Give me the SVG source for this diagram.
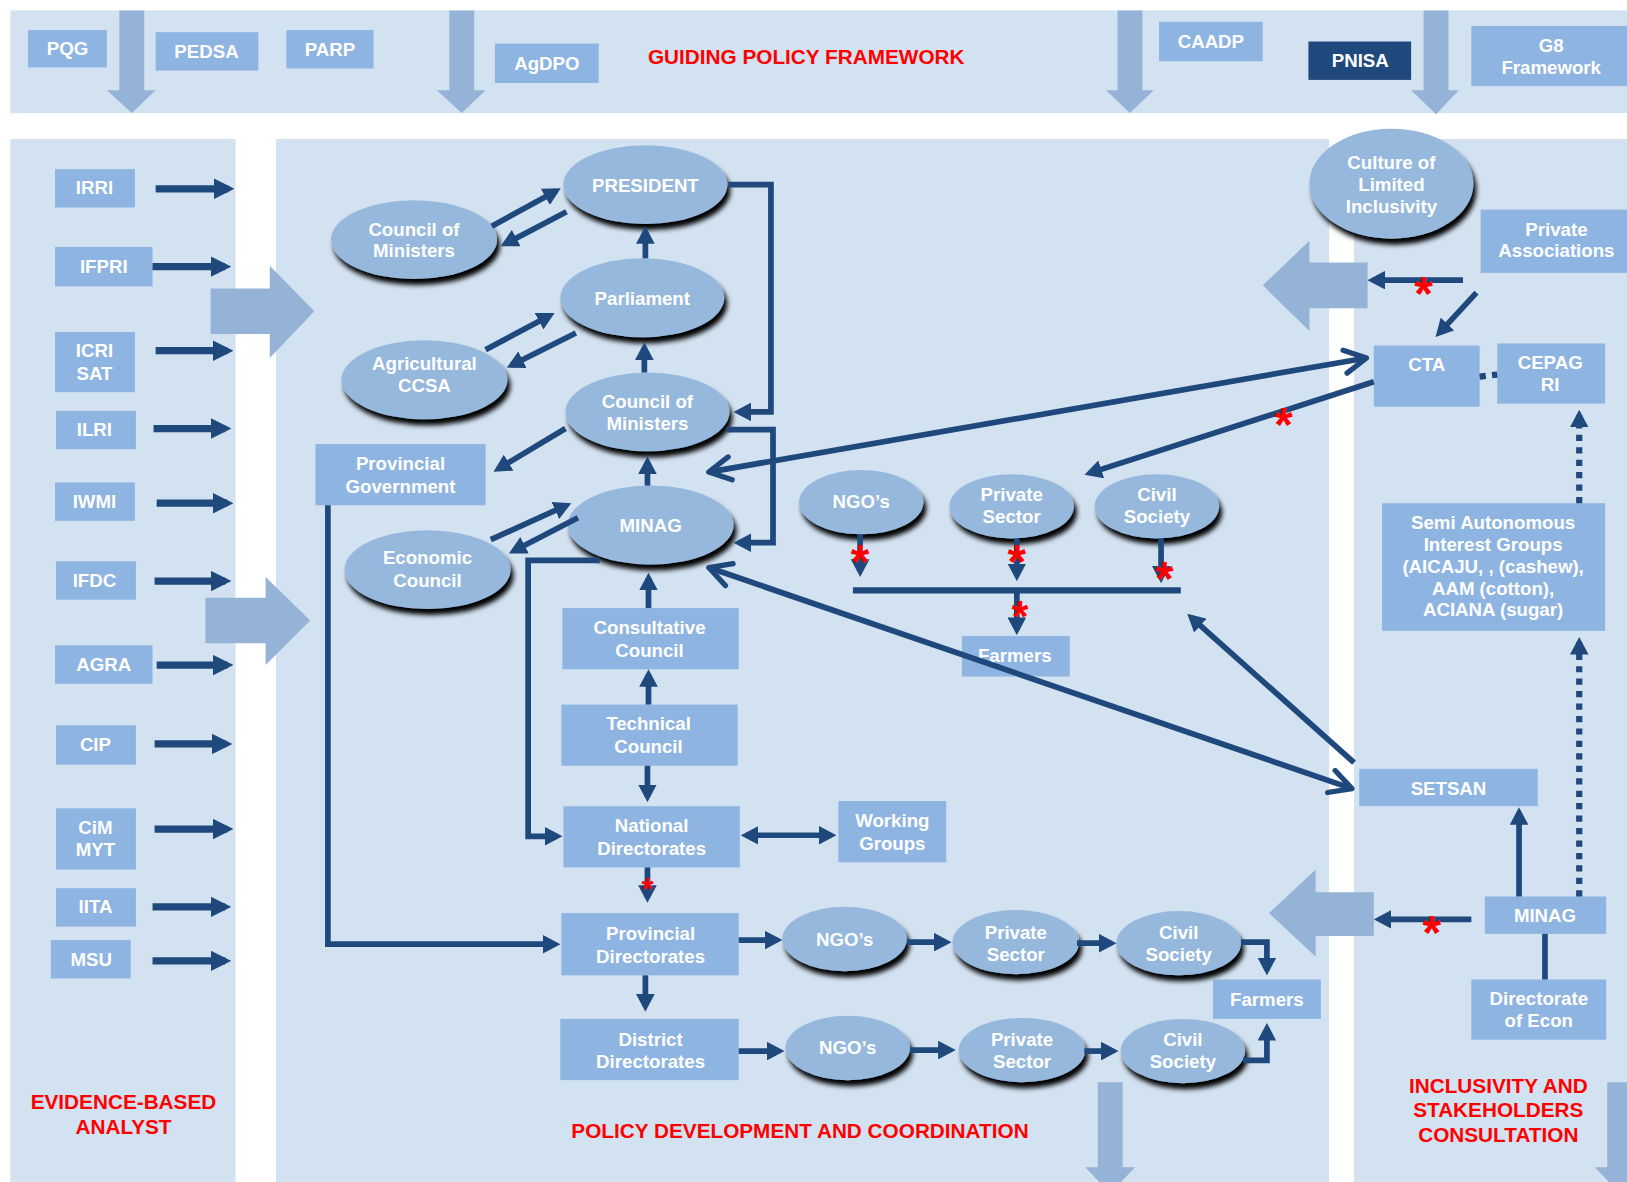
<svg xmlns="http://www.w3.org/2000/svg" width="1627" height="1182" viewBox="0 0 1627 1182">
<defs>
<style>
.bg{fill:#D3E2F1}
.bx{fill:#8EB4E2}
.el{fill:#95B8DC;filter:url(#sh)}
.pa{fill:#95B3D7}
.t{font-family:"Liberation Sans",Arial,sans-serif;font-weight:bold;font-size:18px;fill:#fff;text-anchor:middle}
.r{font-family:"Liberation Sans",Arial,sans-serif;font-weight:bold;font-size:20px;fill:#FF0000;text-anchor:middle}
.ast{font-family:"Liberation Sans",Arial,sans-serif;font-weight:bold;font-size:46px;fill:#FF0000;text-anchor:middle}
.c{fill:none;stroke:#1F497D;stroke-width:5.5}
.cl{fill:none;stroke:#1F497D;stroke-width:7}
.d{fill:none;stroke:#1F497D;stroke-width:6;stroke-dasharray:6 6}
</style>
<filter id="sh" x="-15%" y="-15%" width="135%" height="150%">
<feOffset in="SourceAlpha" dx="3" dy="6" result="o"/>
<feGaussianBlur in="o" stdDeviation="2.5" result="b"/>
<feMerge><feMergeNode in="b"/><feMergeNode in="SourceGraphic"/></feMerge>
</filter>
<marker id="ah" viewBox="0 0 10 10" refX="7" refY="5" markerWidth="17" markerHeight="18" markerUnits="userSpaceOnUse" orient="auto-start-reverse" preserveAspectRatio="none"><path d="M0,0L10,5L0,10z" fill="#1F497D"/></marker>
<marker id="ahL" viewBox="0 0 10 10" refX="7" refY="5" markerWidth="20" markerHeight="20" markerUnits="userSpaceOnUse" orient="auto" preserveAspectRatio="none"><path d="M0,0L10,5L0,10z" fill="#1F497D"/></marker>
<marker id="oc" viewBox="0 0 20 20" refX="18" refY="10" markerWidth="28" markerHeight="28" markerUnits="userSpaceOnUse" orient="auto-start-reverse"><path d="M3,2L18,10L3,18" fill="none" stroke="#1F497D" stroke-width="3.6" stroke-linecap="round" stroke-linejoin="round"/></marker>
</defs>
<rect width="1627" height="1182" fill="#fff"/>
<g transform="scale(1.0376)">
<g id="panels">
<rect class="bg" x="10" y="10" width="1558" height="99"/>
<rect class="bg" x="10" y="134" width="217" height="1005"/>
<rect class="bg" x="266" y="134" width="1015" height="1005"/>
<rect class="bg" x="1305" y="134" width="263" height="1005"/>
</g>
<g id="big-arrows">
<polygon class="pa" points="115,10 139,10 139,87 150,87 127,109 103,87 115,87"/>
<polygon class="pa" points="433,10 457,10 457,87 468,87 445,109 421,87 433,87"/>
<polygon class="pa" points="1077,10 1101,10 1101,87 1112,87 1089,109 1066,87 1077,87"/>
<polygon class="pa" points="1372,10 1396,10 1396,87 1406,87 1384,110 1360,87 1372,87"/>
<polygon class="pa" points="203,278 260,278 260,256 303,300 260,345 260,322 203,322"/>
<polygon class="pa" points="198,576 256,576 256,556 299,598 256,641 256,620 198,620"/>
<polygon class="pa" points="1318,253 1262,253 1262,232 1217,275 1262,319 1262,297 1318,297"/>
<polygon class="pa" points="1324,860 1268,860 1268,838 1223,880 1268,922 1268,902 1324,902"/>
<polygon class="pa" points="1058,1043 1082,1043 1082,1125 1094,1125 1070,1150 1046,1125 1058,1125"/>
<polygon class="pa" points="1549,1043 1573,1043 1573,1125 1585,1125 1561,1150 1537,1125 1549,1125"/>
</g>
<g id="n-pqg"><rect class="bx" x="27" y="29" width="76" height="36"/><text class="t" x="65" y="53">PQG</text></g>
<g id="n-pedsa"><rect class="bx" x="150" y="31" width="99" height="37"/><text class="t" x="199" y="56">PEDSA</text></g>
<g id="n-parp"><rect class="bx" x="276" y="29" width="84" height="37"/><text class="t" x="318" y="54">PARP</text></g>
<g id="n-agdpo"><rect class="bx" x="477" y="42" width="100" height="38"/><text class="t" x="527" y="67">AgDPO</text></g>
<g id="n-caadp"><rect class="bx" x="1117" y="21" width="100" height="38"/><text class="t" x="1167" y="46">CAADP</text></g>
<g id="n-pnisa"><rect x="1261" y="40" width="99" height="37" fill="#1F497D"/><text class="t" x="1311" y="65">PNISA</text></g>
<g id="n-g8"><rect class="bx" x="1418" y="25" width="150" height="58"/><text class="t" x="1495" y="50">G8</text><text class="t" x="1495" y="71">Framework</text></g>

<g id="n-irri"><rect class="bx" x="53" y="163" width="77" height="37"/><text class="t" x="91" y="187">IRRI</text></g>
<g id="n-ifpri"><rect class="bx" x="53" y="238" width="94" height="38"/><text class="t" x="100" y="263">IFPRI</text></g>
<g id="n-icrisat"><rect class="bx" x="53" y="320" width="77" height="58"/><text class="t" x="91" y="344">ICRI</text><text class="t" x="91" y="366">SAT</text></g>
<g id="n-ilri"><rect class="bx" x="54" y="396" width="77" height="37"/><text class="t" x="91" y="420">ILRI</text></g>
<g id="n-iwmi"><rect class="bx" x="53" y="465" width="77" height="37"/><text class="t" x="91" y="490">IWMI</text></g>
<g id="n-ifdc"><rect class="bx" x="54" y="541" width="77" height="37"/><text class="t" x="91" y="566">IFDC</text></g>
<g id="n-agra"><rect class="bx" x="53" y="622" width="94" height="37"/><text class="t" x="100" y="647">AGRA</text></g>
<g id="n-cip"><rect class="bx" x="54" y="699" width="77" height="38"/><text class="t" x="92" y="724">CIP</text></g>
<g id="n-cimmyt"><rect class="bx" x="54" y="779" width="77" height="59"/><text class="t" x="92" y="804">CiM</text><text class="t" x="92" y="825">MYT</text></g>
<g id="n-iita"><rect class="bx" x="54" y="856" width="77" height="37"/><text class="t" x="92" y="880">IITA</text></g>
<g id="n-msu"><rect class="bx" x="49" y="906" width="77" height="37"/><text class="t" x="88" y="931">MSU</text></g>

<g id="n-com-top"><ellipse class="el" cx="399" cy="231" rx="80" ry="38"/><text class="t" x="399" y="227">Council of</text><text class="t" x="399" y="248">Ministers</text></g>
<g id="n-president"><ellipse class="el" cx="622" cy="178" rx="79" ry="38"/><text class="t" x="622" y="185">PRESIDENT</text></g>
<g id="n-parliament"><ellipse class="el" cx="619" cy="287" rx="79" ry="38"/><text class="t" x="619" y="294">Parliament</text></g>
<g id="n-ccsa"><ellipse class="el" cx="409" cy="366" rx="80" ry="38"/><text class="t" x="409" y="357">Agricultural</text><text class="t" x="409" y="378">CCSA</text></g>
<g id="n-com-mid"><ellipse class="el" cx="624" cy="397" rx="79" ry="38"/><text class="t" x="624" y="393">Council of</text><text class="t" x="624" y="414">Ministers</text></g>
<g id="n-minag"><ellipse class="el" cx="627" cy="506" rx="80" ry="38"/><text class="t" x="627" y="513">MINAG</text></g>
<g id="n-econ"><ellipse class="el" cx="412" cy="549" rx="80" ry="38"/><text class="t" x="412" y="544">Economic</text><text class="t" x="412" y="566">Council</text></g>
<g id="n-provgov"><rect class="bx" x="304" y="428" width="164" height="59"/><text class="t" x="386" y="453">Provincial</text><text class="t" x="386" y="475">Government</text></g>
<g id="n-consult"><rect class="bx" x="542" y="586" width="170" height="59"/><text class="t" x="626" y="611">Consultative</text><text class="t" x="626" y="633">Council</text></g>
<g id="n-tech"><rect class="bx" x="541" y="679" width="170" height="59"/><text class="t" x="625" y="704">Technical</text><text class="t" x="625" y="726">Council</text></g>
<g id="n-natdir"><rect class="bx" x="543" y="777" width="170" height="59"/><text class="t" x="628" y="802">National</text><text class="t" x="628" y="824">Directorates</text></g>
<g id="n-wg"><rect class="bx" x="808" y="772" width="104" height="59"/><text class="t" x="860" y="797">Working</text><text class="t" x="860" y="819">Groups</text></g>
<g id="n-provdir"><rect class="bx" x="541" y="880" width="171" height="60"/><text class="t" x="627" y="906">Provincial</text><text class="t" x="627" y="928">Directorates</text></g>
<g id="n-distdir"><rect class="bx" x="540" y="982" width="172" height="59"/><text class="t" x="627" y="1008">District</text><text class="t" x="627" y="1029">Directorates</text></g>

<g id="n-ngo-m"><ellipse class="el" cx="830" cy="484" rx="60" ry="31"/><text class="t" x="830" y="490">NGO’s</text></g>
<g id="n-priv-m"><ellipse class="el" cx="975" cy="488" rx="60" ry="31"/><text class="t" x="975" y="483">Private</text><text class="t" x="975" y="504">Sector</text></g>
<g id="n-civ-m"><ellipse class="el" cx="1115" cy="488" rx="60" ry="31"/><text class="t" x="1115" y="483">Civil</text><text class="t" x="1115" y="504">Society</text></g>
<g id="n-farmers-m"><rect class="bx" x="927" y="613" width="104" height="39"/><text class="t" x="978" y="638">Farmers</text></g>

<g id="n-ngo-1"><ellipse class="el" cx="814" cy="905" rx="60" ry="31"/><text class="t" x="814" y="912">NGO’s</text></g>
<g id="n-priv-1"><ellipse class="el" cx="979" cy="908" rx="61" ry="31"/><text class="t" x="979" y="905">Private</text><text class="t" x="979" y="926">Sector</text></g>
<g id="n-civ-1"><ellipse class="el" cx="1136" cy="909" rx="60" ry="31"/><text class="t" x="1136" y="905">Civil</text><text class="t" x="1136" y="926">Society</text></g>
<g id="n-ngo-2"><ellipse class="el" cx="817" cy="1010" rx="60" ry="31"/><text class="t" x="817" y="1016">NGO’s</text></g>
<g id="n-priv-2"><ellipse class="el" cx="985" cy="1012" rx="61" ry="31"/><text class="t" x="985" y="1008">Private</text><text class="t" x="985" y="1029">Sector</text></g>
<g id="n-civ-2"><ellipse class="el" cx="1140" cy="1013" rx="60" ry="31"/><text class="t" x="1140" y="1008">Civil</text><text class="t" x="1140" y="1029">Society</text></g>
<g id="n-farmers-b"><rect class="bx" x="1169" y="944" width="104" height="38"/><text class="t" x="1221" y="970">Farmers</text></g>

<g id="n-culture"><ellipse class="el" cx="1341" cy="177" rx="79" ry="53"/><text class="t" x="1341" y="163">Culture of</text><text class="t" x="1341" y="184">Limited</text><text class="t" x="1341" y="205">Inclusivity</text></g>
<g id="n-privassoc"><rect class="bx" x="1427" y="202" width="141" height="61"/><text class="t" x="1500" y="227">Private</text><text class="t" x="1500" y="248">Associations</text></g>
<g id="n-cta"><rect class="bx" x="1324" y="333" width="102" height="59"/><text class="t" x="1375" y="358">CTA</text></g>
<g id="n-cepagri"><rect class="bx" x="1443" y="331" width="104" height="58"/><text class="t" x="1494" y="356">CEPAG</text><text class="t" x="1494" y="377">RI</text></g>
<g id="n-semi"><rect class="bx" x="1332" y="485" width="215" height="123"/><text class="t" x="1439" y="510">Semi Autonomous</text><text class="t" x="1439" y="531">Interest Groups</text><text class="t" x="1439" y="552">(AICAJU, , (cashew),</text><text class="t" x="1439" y="573">AAM (cotton),</text><text class="t" x="1439" y="594">ACIANA (sugar)</text></g>
<g id="n-setsan"><rect class="bx" x="1310" y="741" width="172" height="36"/><text class="t" x="1396" y="766">SETSAN</text></g>
<g id="n-minag-r"><rect class="bx" x="1431" y="864" width="117" height="36"/><text class="t" x="1489" y="889">MINAG</text></g>
<g id="n-direcon"><rect class="bx" x="1418" y="944" width="130" height="58"/><text class="t" x="1483" y="969">Directorate</text><text class="t" x="1483" y="990">of Econ</text></g>

<g id="connectors">
<g marker-end="url(#ahL)" class="cl">
<path d="M150,182H220"/><path d="M147,257H217"/><path d="M150,338H219"/><path d="M148,413H217"/><path d="M151,485H219"/><path d="M149,560H217"/><path d="M151,641H219"/><path d="M149,717H218"/><path d="M149,799H219"/><path d="M147,874H217"/><path d="M147,926H217"/>
</g>
<g class="c" marker-end="url(#ah)">
<path d="M474,218L536,184"/>
<path d="M546,204L487,235"/>
<path d="M622,249V223"/>
<path d="M468,337L530,304"/>
<path d="M555,321L493,352"/>
<path d="M621,359V335"/>
<path d="M624,468V445"/>
<path d="M545,413L480,452"/>
<path d="M473,520L546,487"/>
<path d="M557,499L495,531"/>
<path d="M702,178H743V397H712"/>
<path d="M700,414H745V523H712"/>
<path d="M578,540H509V806H537"/>
<path d="M316,487V910H535"/>
<path d="M625,586V557"/>
<path d="M625,679V650"/>
<path d="M624,738V768"/>
<path d="M624,836V865"/>
<path d="M622,940V970"/>
<path d="M712,906H749"/>
<path d="M874,908H912"/>
<path d="M1038,909H1071"/>
<path d="M1196,908H1221V935"/>
<path d="M712,1013H751"/>
<path d="M877,1012H916"/>
<path d="M1045,1013H1073"/>
<path d="M1198,1022H1221V991"/>
<path d="M829,515V551"/>
<path d="M980,519V555"/>
<path d="M1119,519V557"/>
<path d="M980,569V607"/>
<path d="M1324,368L1050,456"/>
<path d="M1305,735L1148,595"/>
<path d="M1410,270H1323"/>
<path d="M1423,282L1387,321"/>
<path d="M1464,864V783"/>
<path d="M1418,886H1329"/>
</g>
<path class="c" d="M719,805H801" marker-start="url(#ah)" marker-end="url(#ah)"/>
<path class="c" d="M822,569H1138" style="stroke-width:6"/>
<path class="c" d="M1489,944V900"/>
<path class="c" d="M683,455L1317,345" marker-start="url(#oc)" marker-end="url(#oc)"/>
<path class="c" d="M683,547L1303,760" marker-start="url(#oc)" marker-end="url(#oc)"/>
<path class="d" d="M1426,363L1443,361"/>
<path class="d" d="M1522,485V400" marker-end="url(#ah)"/>
<path class="d" d="M1522,864V619" marker-end="url(#ah)"/>
</g>
<g id="asterisks">
<text class="ast" x="829" y="557">*</text>
<text class="ast" x="980" y="557">*</text>
<text class="ast" x="1122" y="573">*</text>
<text class="ast" x="983" y="609" style="font-size:42px">*</text>
<text class="ast" x="624" y="867" style="font-size:30px">*</text>
<text class="ast" x="1237" y="425">*</text>
<text class="ast" x="1372" y="299">*</text>
<text class="ast" x="1380" y="915">*</text>
</g>
<g id="labels">
<text class="r" x="777" y="62">GUIDING POLICY FRAMEWORK</text>
<text class="r" x="119" y="1069">EVIDENCE-BASED</text>
<text class="r" x="119" y="1093">ANALYST</text>
<text class="r" x="771" y="1097">POLICY DEVELOPMENT AND COORDINATION</text>
<text class="r" x="1444" y="1053">INCLUSIVITY AND</text>
<text class="r" x="1444" y="1077">STAKEHOLDERS</text>
<text class="r" x="1444" y="1101">CONSULTATION</text>
</g>
</g>
</svg>
